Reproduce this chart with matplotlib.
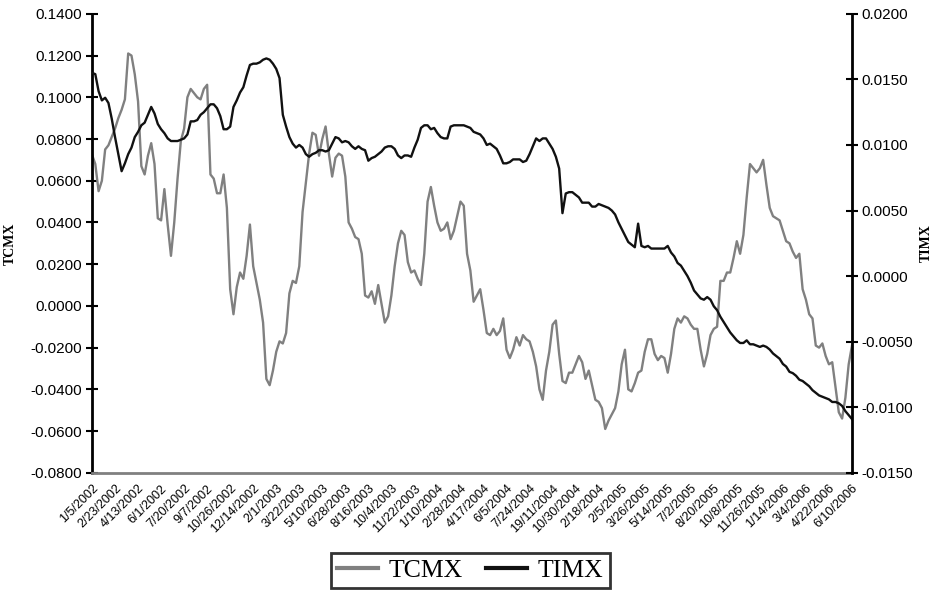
import matplotlib
matplotlib.use("Agg")
import matplotlib.pyplot as plt
from matplotlib.ticker import FixedLocator, FormatStrFormatter

tick_labels = ["1/5/2002", "2/23/2002", "4/13/2002", "6/1/2002", "7/20/2002", "9/7/2002",
               "10/26/2002", "12/14/2002", "2/1/2003", "3/22/2003", "5/10/2003", "6/28/2003",
               "8/16/2003", "10/4/2003", "11/22/2003", "1/10/2004", "2/28/2004", "4/17/2004",
               "6/5/2004", "7/24/2004", "19/11/2004", "10/30/2004", "2/18/2004", "2/5/2005",
               "3/26/2005", "5/14/2005", "7/2/2005", "8/20/2005", "10/8/2005", "11/26/2005",
               "1/14/2006", "3/4/2006", "4/22/2006", "6/10/2006"]

tcmx = [0.0725, 0.068, 0.055, 0.060, 0.075, 0.077, 0.081, 0.085, 0.090, 0.094,
        0.099, 0.121, 0.120, 0.111, 0.098, 0.067, 0.063, 0.072, 0.078, 0.068,
        0.042, 0.041, 0.056, 0.039, 0.024, 0.040, 0.061, 0.079, 0.085, 0.100,
        0.104, 0.102, 0.100, 0.099, 0.104, 0.106, 0.063, 0.061, 0.054, 0.054,
        0.063, 0.047, 0.008, -0.004, 0.009, 0.016, 0.013, 0.024, 0.039, 0.019,
        0.011, 0.003, -0.008, -0.035, -0.038, -0.031, -0.022, -0.017, -0.018, -0.013,
        0.006, 0.012, 0.011, 0.019, 0.045, 0.059, 0.073, 0.083, 0.082, 0.072,
        0.080, 0.086, 0.073, 0.062, 0.071, 0.073, 0.072, 0.062, 0.040, 0.037,
        0.033, 0.032, 0.025, 0.005, 0.004, 0.007, 0.001, 0.010, 0.001, -0.008,
        -0.005, 0.005, 0.019, 0.030, 0.036, 0.034, 0.021, 0.016, 0.017, 0.013,
        0.010, 0.025, 0.050, 0.057, 0.048, 0.040, 0.036, 0.037, 0.040, 0.032,
        0.036, 0.043, 0.050, 0.048, 0.025, 0.017, 0.002, 0.005, 0.008, -0.002,
        -0.013, -0.014, -0.011, -0.014, -0.012, -0.006, -0.021, -0.025, -0.021, -0.015,
        -0.019, -0.014, -0.016, -0.017, -0.022, -0.029, -0.040, -0.045, -0.031, -0.022,
        -0.009, -0.007, -0.023, -0.036, -0.037, -0.032, -0.032, -0.028, -0.024, -0.027,
        -0.035, -0.031, -0.038, -0.045, -0.046, -0.049, -0.059, -0.055, -0.052, -0.049,
        -0.041, -0.028, -0.021, -0.040, -0.041, -0.037, -0.032, -0.031, -0.022, -0.016,
        -0.016, -0.023, -0.026, -0.024, -0.025, -0.032, -0.023, -0.011, -0.006, -0.008,
        -0.005, -0.006, -0.009, -0.011, -0.011, -0.021, -0.029, -0.023, -0.014, -0.011,
        -0.010, 0.012, 0.012, 0.016, 0.016, 0.023, 0.031, 0.025, 0.034, 0.052,
        0.068, 0.066, 0.064, 0.066, 0.070, 0.058, 0.047, 0.043, 0.042, 0.041,
        0.036, 0.031, 0.030, 0.026, 0.023, 0.025, 0.008, 0.003, -0.004, -0.006,
        -0.019, -0.020, -0.018, -0.024, -0.028, -0.027, -0.039, -0.051, -0.054, -0.044,
        -0.028, -0.019]

timx = [0.0155, 0.0154, 0.0141, 0.0134, 0.0136, 0.0132, 0.0120, 0.0106, 0.0093, 0.0080,
        0.0086, 0.0093, 0.0098, 0.0106, 0.0110, 0.0115, 0.0117, 0.0123, 0.0129, 0.0124,
        0.0116, 0.0112, 0.0109, 0.0105, 0.0103, 0.0103, 0.0103, 0.0104, 0.0105, 0.0108,
        0.0118, 0.0118, 0.0119, 0.0123, 0.0125, 0.0128, 0.0131, 0.0131, 0.0128, 0.0122,
        0.0112, 0.0112, 0.0114, 0.0129, 0.0134, 0.0140, 0.0144, 0.0153, 0.0161, 0.0162,
        0.0162, 0.0163, 0.0165, 0.0166, 0.0165, 0.0162, 0.0158, 0.0151, 0.0123, 0.0114,
        0.0106, 0.0101, 0.0098, 0.0100, 0.0098, 0.0093, 0.0091, 0.0093, 0.0094, 0.0096,
        0.0096, 0.0095, 0.0096, 0.0101, 0.0106, 0.0105, 0.0102, 0.0103, 0.0102, 0.0099,
        0.0097, 0.0099, 0.0097, 0.0096, 0.0088, 0.0090, 0.0091, 0.0093, 0.0095, 0.0098,
        0.0099, 0.0099, 0.0097, 0.0092, 0.0090, 0.0092, 0.0092, 0.0091, 0.0098, 0.0104,
        0.0113, 0.0115, 0.0115, 0.0112, 0.0113, 0.0109, 0.0106, 0.0105, 0.0105, 0.0114,
        0.0115, 0.0115, 0.0115, 0.0115, 0.0114, 0.0113, 0.0110, 0.0109, 0.0108, 0.0105,
        0.0100, 0.0101, 0.0099, 0.0097, 0.0092, 0.0086, 0.0086, 0.0087, 0.0089, 0.0089,
        0.0089, 0.0087, 0.0088, 0.0093, 0.0099, 0.0105, 0.0103, 0.0105, 0.0105, 0.0101,
        0.0097, 0.0091, 0.0082, 0.0048, 0.0063, 0.0064, 0.0064, 0.0062, 0.0060, 0.0056,
        0.0056, 0.0056, 0.0053, 0.0053, 0.0055, 0.0054, 0.0053, 0.0052, 0.0050, 0.0047,
        0.0041, 0.0036, 0.0031, 0.0026, 0.0024, 0.0022, 0.0040, 0.0023, 0.0022, 0.0023,
        0.0021, 0.0021, 0.0021, 0.0021, 0.0021, 0.0023, 0.0018, 0.0015, 0.0010, 0.0008,
        0.0004, 0.0000, -0.0005, -0.0011, -0.0014, -0.0017, -0.0018, -0.0016, -0.0018, -0.0023,
        -0.0026, -0.0031, -0.0035, -0.0039, -0.0043, -0.0046, -0.0049, -0.0051, -0.0051, -0.0049,
        -0.0052, -0.0052, -0.0053, -0.0054, -0.0053, -0.0054, -0.0056, -0.0059, -0.0061, -0.0063,
        -0.0067, -0.0069, -0.0073, -0.0074, -0.0076, -0.0079, -0.0080, -0.0082, -0.0084, -0.0087,
        -0.0089, -0.0091, -0.0092, -0.0093, -0.0094, -0.0096, -0.0096, -0.0097, -0.0099, -0.0103,
        -0.0106, -0.0109]

label_step = 7

plt.rcParams['font.family'] = ['Liberation Sans', 'DejaVu Sans']

fig = plt.figure(figsize=(9.35, 5.91), dpi=100)
ax = fig.add_axes([0.0984, 0.2, 0.8128, 0.7766])
ax2 = ax.twinx()

x = list(range(len(tcmx)))
l1, = ax.plot(x, tcmx, color='#808080', lw=1.7, label='TCMX')
l2, = ax2.plot(x, timx, color='#111111', lw=1.7, label='TIMX')

ax.set_xlim(0, len(tcmx) - 1)
ax.set_ylim(-0.08, 0.14)
ax2.set_ylim(-0.015, 0.02)

ax.yaxis.set_major_locator(FixedLocator([-0.08 + 0.02 * k for k in range(12)]))
ax2.yaxis.set_major_locator(FixedLocator([-0.015 + 0.005 * k for k in range(8)]))
ax.yaxis.set_major_formatter(FormatStrFormatter('%.4f'))
ax2.yaxis.set_major_formatter(FormatStrFormatter('%.4f'))

ax.set_xticks([k * label_step for k in range(len(tick_labels))])
ax.set_xticklabels(tick_labels, rotation=45, ha='right', rotation_mode='anchor', fontsize=9)
ax.tick_params(axis='x', length=0, pad=7)

for a in (ax, ax2):
    a.spines['top'].set_visible(False)
    a.spines['left'].set_linewidth(2)
    a.spines['right'].set_linewidth(2)
    a.spines['bottom'].set_color('#808080')
    a.spines['bottom'].set_linewidth(2)
ax.spines['right'].set_visible(False)
ax2.spines['left'].set_visible(False)
ax2.spines['bottom'].set_visible(False)

ax.tick_params(axis='y', direction='inout', length=8, width=1.5, labelsize=11, pad=3)
ax2.tick_params(axis='y', direction='inout', length=8, width=1.5, labelsize=11, pad=3)

ax.set_ylabel('TCMX', fontfamily='Liberation Serif', fontweight='bold', fontsize=10, labelpad=10)
ax2.set_ylabel('TIMX', fontfamily='Liberation Serif', fontweight='bold', fontsize=10, labelpad=5, rotation=90)

leg = fig.legend(handles=[l1, l2], loc='lower center', bbox_to_anchor=(0.503, 0.0), ncol=2,
                 prop={'family': 'Liberation Serif', 'size': 18.5}, frameon=True, fancybox=False,
                 handlelength=1.6, handletextpad=0.4, columnspacing=0.9, borderpad=0.25,
                 borderaxespad=0.1)
leg.get_frame().set_edgecolor('black')
leg.get_frame().set_linewidth(2)
for h in leg.legend_handles:
    h.set_linewidth(3)

fig.savefig('out.png', dpi=100)
